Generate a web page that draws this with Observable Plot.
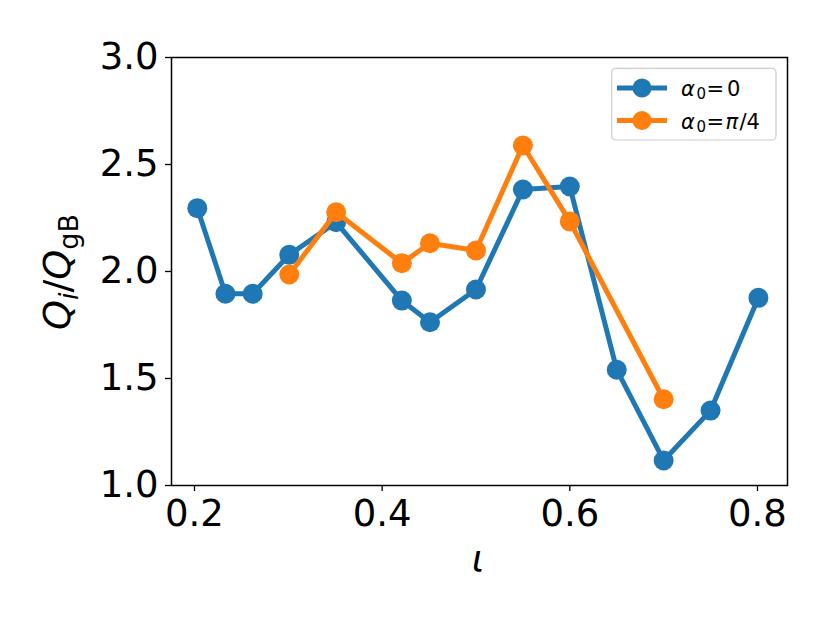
<!DOCTYPE html>
<html><head><meta charset="utf-8">
<script src="https://cdn.jsdelivr.net/npm/d3@7"></script>
<script src="https://cdn.jsdelivr.net/npm/@observablehq/plot@0.6"></script>
<style>body{margin:0;background:#fff} svg{display:block}</style>
</head><body><div id="chart"></div>
<script>
// Series alpha0 = 0
const iotaA = [0.203, 0.233, 0.262, 0.301, 0.351, 0.421, 0.451, 0.500, 0.550, 0.600, 0.650, 0.700, 0.750, 0.801];
const qA    = [2.296, 1.896, 1.896, 2.078, 2.230, 1.864, 1.763, 1.916, 2.383, 2.397, 1.541, 1.117, 1.350, 1.877];
// Series alpha0 = pi/4
const iotaB = [0.301, 0.351, 0.421, 0.451, 0.500, 0.550, 0.600, 0.700];
const qB    = [1.986, 2.277, 2.039, 2.132, 2.098, 2.589, 2.234, 1.403];
const colors = ["#1f77b4", "#ff7f0e"];
const xTicks = [0.2, 0.4, 0.6, 0.8];
const yTicks = [1.0, 1.5, 2.0, 2.5, 3.0];

const A = iotaA.map((x, i) => ({x, y: qA[i]}));
const B = iotaB.map((x, i) => ({x, y: qB[i]}));
const fmt = d3.format(".1f");

const plot = Plot.plot({
  width: 830, height: 623,
  marginLeft: 171, marginRight: 43, marginTop: 57, marginBottom: 138,
  style: {fontFamily: "DejaVu Sans", fontSize: "37px", color: "#000", background: "#fff"},
  x: {domain: [0.1755, 0.832]},
  y: {domain: [1, 3]},
  marks: [
    Plot.axisX({ticks: xTicks, tickFormat: fmt, tickSize: 6, tickPadding: 8, fontSize: 37, label: null, strokeWidth: 1.3}),
    Plot.axisY({ticks: yTicks, tickFormat: fmt, tickSize: 6, tickPadding: 7, fontSize: 37, label: null, strokeWidth: 1.3}),
    Plot.line(A, {x: "x", y: "y", stroke: colors[0], strokeWidth: 5}),
    Plot.dot(A, {x: "x", y: "y", r: 10, fill: colors[0]}),
    Plot.line(B, {x: "x", y: "y", stroke: colors[1], strokeWidth: 5}),
    Plot.dot(B, {x: "x", y: "y", r: 10, fill: colors[1]}),
    Plot.frame({stroke: "#000", strokeWidth: 1.5})
  ]
});
document.getElementById("chart").appendChild(plot);

const svg = d3.select(plot);
// Y label
const yl = svg.append("text")
  .attr("transform", "translate(70,272) rotate(-90)")
  .attr("text-anchor", "middle")
  .attr("font-family", "DejaVu Sans").attr("font-size", 38).attr("fill", "#000");
yl.append("tspan").attr("font-style", "italic").text("Q");
yl.append("tspan").attr("font-style", "italic").attr("font-size", 27).attr("dy", 8).text("i");
yl.append("tspan").attr("dy", -8).text("/");
yl.append("tspan").attr("font-style", "italic").text("Q");
yl.append("tspan").attr("font-size", 27).attr("dy", 8).text("gB");

// X label
svg.append("text").attr("x", 478).attr("y", 572)
  .attr("text-anchor", "middle").attr("font-family", "DejaVu Sans")
  .attr("font-style", "italic").attr("font-size", 37).attr("fill", "#000").text("ι");

// Legend
const lg = svg.append("g");
lg.append("rect").attr("x", 611.7).attr("y", 68.3).attr("width", 164.3).attr("height", 71.7)
  .attr("rx", 4).attr("fill", "#fff").attr("fill-opacity", 0.8).attr("stroke", "#cccccc").attr("stroke-width", 1.2);
const rows = [88, 120.5];
const baselines = [96, 128.5];
rows.forEach((ry, i) => {
  lg.append("line").attr("x1", 617).attr("x2", 667).attr("y1", ry).attr("y2", ry)
    .attr("stroke", colors[i]).attr("stroke-width", 5);
  lg.append("circle").attr("cx", 642).attr("cy", ry).attr("r", 9.5).attr("fill", colors[i]);
  const by = baselines[i];
  const g = lg.append("g").attr("font-family", "DejaVu Sans").attr("fill", "#000").attr("text-anchor", "start");
  g.append("text").attr("x", 681).attr("y", by).attr("font-size", 21).attr("font-style", "italic").text("α");
  g.append("text").attr("x", 696.5).attr("y", by + 3.3).attr("font-size", 15).text("0");
  g.append("text").attr("x", 706.5).attr("y", by).attr("font-size", 21).text("=");
  if (i === 0) {
    g.append("text").attr("x", 727).attr("y", by).attr("font-size", 21).text("0");
  } else {
    g.append("text").attr("x", 725.5).attr("y", by).attr("font-size", 21).attr("font-style", "italic").text("π");
    g.append("text").attr("x", 739.5).attr("y", by).attr("font-size", 21).text("/4");
  }
});
</script></body></html>
